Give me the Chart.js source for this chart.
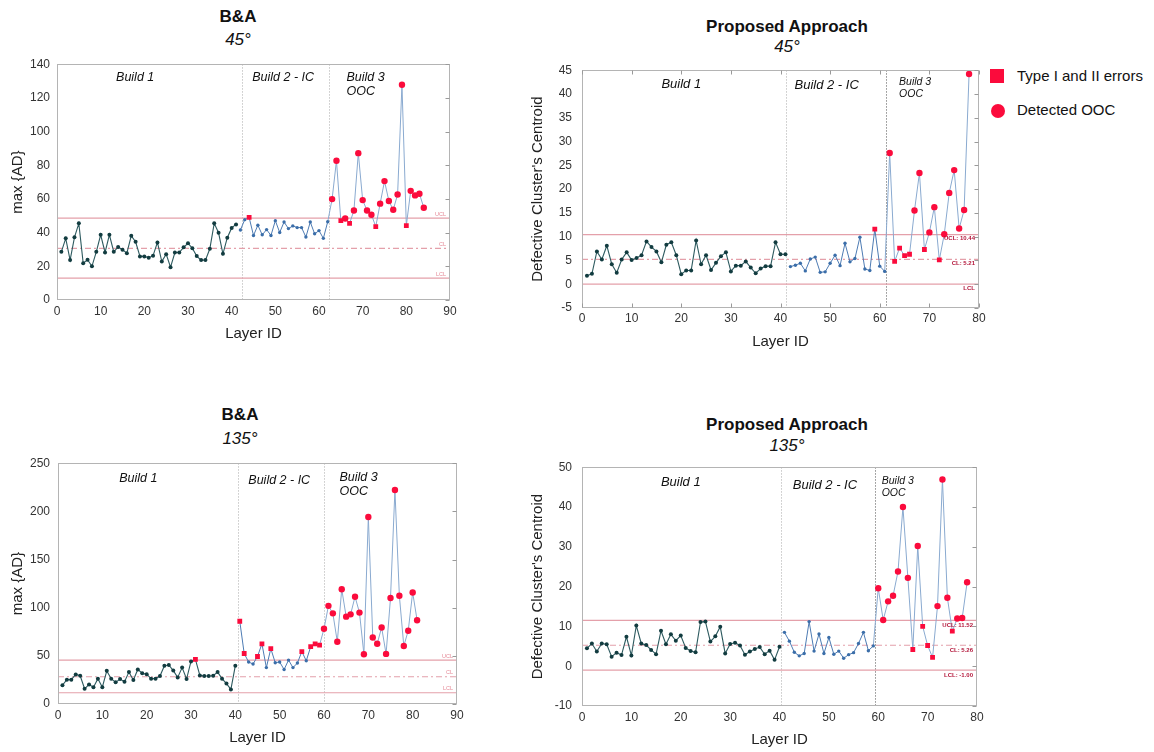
<!DOCTYPE html>
<html>
<head>
<meta charset="utf-8">
<title>Control charts</title>
<script src="https://cdn.jsdelivr.net/npm/chart.js@4.4.1/dist/chart.umd.min.js"></script>
<style>
  body {
    margin: 0;
    width: 1154px;
    height: 752px;
    position: relative;
    overflow: hidden;
    background: #fff;
    font-family: "Liberation Sans", Arial, sans-serif;
    color: #111;
  }
  canvas {
    position: absolute;
  }
  .ttl {
    position: absolute;
    transform: translate(-50%, -50%);
    font-size: 17px;
    white-space: nowrap;
  }
  .ttl.main {
    font-weight: bold;
  }
  .ttl.sub {
    font-style: italic;
  }
  .legend {
    position: absolute;
    left: 990px;
    top: 66px;
    font-size: 15px;
  }
  .legend .row {
    position: relative;
    height: 34px;
    padding-left: 27px;
    line-height: 20px;
  }
  .legend .sq {
    position: absolute;
    left: 0;
    top: 3px;
    width: 14px;
    height: 14px;
    background: #fb0b3c;
  }
  .legend .dot {
    position: absolute;
    left: 1px;
    top: 4px;
    width: 14px;
    height: 14px;
    border-radius: 50%;
    background: #fb0b3c;
  }
</style>
</head>
<body>

<div class="ttl main" style="left:238px;top:17px">B&amp;A</div>
<div class="ttl sub" style="left:238px;top:40px">45°</div>
<div class="ttl main" style="left:787px;top:27px">Proposed Approach</div>
<div class="ttl sub" style="left:787px;top:47px">45°</div>
<div class="ttl main" style="left:240px;top:415px">B&amp;A</div>
<div class="ttl sub" style="left:240px;top:439px">135°</div>
<div class="ttl main" style="left:787px;top:425px">Proposed Approach</div>
<div class="ttl sub" style="left:787px;top:446px">135°</div>

<div class="legend">
  <div class="row"><span class="sq"></span>Type I and II errors</div>
  <div class="row"><span class="dot"></span>Detected OOC</div>
</div>

<canvas id="ba45"></canvas>
<canvas id="pa45"></canvas>
<canvas id="ba135"></canvas>
<canvas id="pa135"></canvas>

<script>
// ---- B&A, 45 deg ----
const ba45Starts = [1, 42, 63]; // first layer of build 1, 2, 3
const ba45Build1 = [28.6, 36.6, 23.7, 37.2, 45.5, 21.8, 23.9, 20.0, 28.6, 38.7,
  28.2, 38.7, 28.6, 31.5, 29.8, 27.8, 38.1, 34.6, 25.9, 25.9,
  25.1, 26.3, 34.2, 22.8, 27.2, 19.5, 28.2, 28.2, 31.3, 33.7,
  30.7, 26.1, 23.7, 23.7, 30.4, 45.5, 39.9, 27.4, 37.0, 42.8, 44.9];
const ba45Build2 = [41.6, 47.7, 49.0, 38.3, 44.4, 38.7, 41.8, 38.3, 47.1, 40.1,
  46.3, 42.4, 44.0, 43.0, 43.0, 37.4, 46.3, 39.3, 41.2, 36.6, 46.5];
const ba45Build3 = [59.9, 82.7, 47.1, 48.4, 45.5, 53.1, 87.2, 59.3, 53.1, 50.6,
  43.6, 57.2, 70.6, 58.8, 53.6, 62.6, 127.8, 44.2, 64.8, 62.1, 63.1, 54.8];
const ba45Errors = [44, 65, 67, 73, 80];
const ba45Limits = [48.6, 30.7, 13.0]; // UCL, CL, LCL
const ba45LimitText = ["UCL", "CL", "LCL"];
const ba45YTicks = [0, 140, 20]; // min, max, step
const ba45XTicks = [0, 90, 10];

// ---- Proposed approach, 45 deg ----
const pa45Starts = [1, 42, 62];
const pa45Build1 = [1.8, 2.2, 6.9, 5.2, 8.1, 4.2, 2.4, 5.2, 6.7, 5.1,
  5.5, 6.1, 9.0, 7.8, 6.9, 4.6, 8.3, 8.8, 6.1, 2.1,
  2.9, 2.9, 9.2, 4.2, 6.1, 3.0, 4.5, 5.9, 6.7, 2.7,
  3.9, 3.9, 4.8, 3.5, 2.3, 3.3, 3.8, 3.8, 8.8, 6.3, 6.3];
const pa45Build2 = [3.7, 4.0, 4.4, 2.8, 5.3, 5.7, 2.5, 2.6, 4.4, 6.1,
  3.9, 8.6, 4.7, 5.4, 9.9, 3.2, 2.9, 11.6, 3.8, 2.7];
const pa45Build3 = [27.6, 4.8, 7.6, 6.0, 6.3, 15.5, 23.4, 7.3, 10.9, 16.2,
  5.1, 10.5, 19.2, 24.0, 11.7, 15.6, 44.2];
const pa45Errors = [59, 63, 64, 65, 66, 69, 72];
const pa45Limits = [10.44, 5.21, 0];
const pa45LimitText = ["UCL: 10.44", "CL: 5.21", "LCL"];
const pa45YTicks = [-5, 45, 5];
const pa45XTicks = [0, 80, 10];

// ---- B&A, 135 deg ----
const ba135Starts = [1, 41, 60];
const ba135Build1 = [19.5, 25.3, 25.3, 30.7, 29.3, 15.8, 20.2, 17.5, 26.3, 17.5,
  34.4, 26.3, 22.5, 25.9, 23.2, 33.1, 24.9, 35.8, 32.0, 31.0,
  26.3, 26.3, 29.0, 39.8, 40.5, 34.7, 27.6, 37.8, 25.9, 44.2,
  46.3, 29.7, 29.0, 29.0, 29.3, 33.1, 26.3, 21.2, 15.1, 39.8];
const ba135Build2 = [85.9, 52.4, 43.6, 41.5, 49.3, 62.5, 37.8, 57.5, 42.9, 43.6,
  35.8, 45.6, 37.8, 42.5, 54.4, 44.9, 59.5, 62.5, 61.2];
const ba135Build3 = [78.1, 101.9, 94.1, 64.6, 119.2, 90.7, 93.1, 111.4, 94.9, 51.7,
  194.1, 69.0, 62.5, 79.5, 52.0, 110.0, 222.2, 112.4, 60.2, 76.1, 115.8, 87.0];
const ba135Errors = [31, 41, 42, 45, 46, 48, 55, 57, 58, 59];
const ba135Limits = [45.6, 28.3, 11.7];
const ba135LimitText = ["UCL", "CL", "LCL"];
const ba135YTicks = [0, 250, 50];
const ba135XTicks = [0, 90, 10];

// ---- Proposed approach, 135 deg ----
const pa135Starts = [1, 41, 60];
const pa135Build1 = [4.5, 5.7, 3.7, 5.7, 5.5, 2.4, 3.4, 2.8, 7.4, 2.7,
  10.2, 5.7, 5.3, 4.1, 3.0, 8.9, 5.5, 8.0, 6.4, 7.7,
  4.6, 3.8, 3.5, 11.1, 11.2, 6.2, 7.5, 9.9, 3.2, 5.6,
  5.9, 5.2, 2.9, 3.7, 4.3, 4.8, 3.0, 3.9, 1.6, 4.9];
const pa135Build2 = [8.5, 6.3, 3.5, 2.6, 3.2, 11.2, 3.8, 8.1, 3.2, 7.2,
  3.0, 3.8, 2.0, 2.9, 3.4, 5.7, 8.5, 3.9, 5.1];
const pa135Build3 = [19.6, 11.6, 16.3, 17.7, 23.8, 40.0, 22.2, 4.2, 30.2, 10.0,
  5.2, 2.2, 15.1, 46.9, 17.2, 8.8, 12.0, 12.1, 21.1];
const pa135Errors = [67, 69, 70, 71, 75];
const pa135Limits = [11.52, 5.26, -1.0];
const pa135LimitText = ["UCL: 11.52", "CL: 5.26", "LCL: -1.00"];
const pa135YTicks = [-10, 50, 10];
const pa135XTicks = [0, 80, 10];

const RED = "#fb0b3c";
const TEAL_LINE = "#2d5a5f";
const TEAL_DOT = "#123c40";
const BLUE_LINE = "#4d7bb3";
const BLUE_LIGHT = "#8aaad0";
const BLUE_DOT = "#3b6ea9";

Chart.defaults.font.family = "'Liberation Sans', Arial, sans-serif";
Chart.defaults.color = "#222";

function layerPoints(start, values) {
  return values.map((v, i) => ({ x: start + i, y: v }));
}

// frame, build dividers, build notes and limit labels
const decor = {
  id: "decor",
  beforeDatasetsDraw(chart, args, o) {
    const { ctx, chartArea: a, scales } = chart;
    ctx.save();
    ctx.lineWidth = 1;
    o.dividers.forEach((d, k) => {
      const px = Math.round(scales.x.getPixelForValue(d)) + 0.5;
      ctx.strokeStyle = k === 1 && o.darkSecond ? "#8a8a8a" : "#c6c6c6";
      ctx.setLineDash([1.5, 1.5]);
      ctx.beginPath();
      ctx.moveTo(px, a.top);
      ctx.lineTo(px, a.bottom);
      ctx.stroke();
    });
    ctx.restore();
  },
  afterDatasetsDraw(chart, args, o) {
    const { ctx, chartArea: a, scales } = chart;
    const l = Math.round(a.left) + 0.5, t = Math.round(a.top) + 0.5;
    const r = Math.round(a.right) - 0.5, b = Math.round(a.bottom) - 0.5;
    ctx.save();
    ctx.strokeStyle = "#b4b4b4";
    ctx.lineWidth = 1;
    ctx.strokeRect(l, t, r - l, b - t);

    // small inner ticks
    ctx.strokeStyle = "#9a9a9a";
    ctx.beginPath();
    scales.y.ticks.forEach(tk => {
      const py = Math.round(scales.y.getPixelForValue(tk.value)) + 0.5;
      ctx.moveTo(r - 4, py);
      ctx.lineTo(r, py);
    });
    if (o.xInnerTicks) {
      scales.x.ticks.forEach(tk => {
        const px = Math.round(scales.x.getPixelForValue(tk.value)) + 0.5;
        ctx.moveTo(px, t);
        ctx.lineTo(px, t + 4);
        ctx.moveTo(px, b);
        ctx.lineTo(px, b - 4);
      });
    }
    ctx.stroke();

    // limit labels
    ctx.fillStyle = o.limitColor;
    ctx.font = o.limitFont;
    ctx.textAlign = "right";
    ctx.textBaseline = "middle";
    o.limits.forEach((v, i) => {
      ctx.fillText(o.limitText[i], a.right - 4, scales.y.getPixelForValue(v) + o.limitDy);
    });

    // build notes
    ctx.fillStyle = "#111";
    ctx.textBaseline = "middle";
    o.notes.forEach(n => {
      ctx.font = "italic " + n.size + "px 'Liberation Sans', Arial, sans-serif";
      ctx.textAlign = n.align || "center";
      ctx.fillText(n.text, scales.x.getPixelForValue(n.x), a.top + n.dy);
    });
    ctx.restore();
  }
};

function drawPanel(p) {
  const canvas = document.getElementById(p.id);
  const xh = 46;
  canvas.width = p.R - p.L + p.yw + 16;
  canvas.height = p.B - p.T + 10 + xh;
  canvas.style.left = p.L - p.yw + "px";
  canvas.style.top = p.T - 10 + "px";

  const s3 = p.starts[2];
  const later = layerPoints(p.starts[1], p.build2).concat(layerPoints(s3, p.build3));
  const isErr = c => p.errors.includes(c.raw.x);
  const [xmin, xmax] = p.xTicks;

  const limitLine = (v, dash) => ({
    data: [{ x: xmin, y: v }, { x: xmax, y: v }],
    showLine: true,
    borderColor: "#e4a0aa",
    borderWidth: 1.2,
    borderDash: dash,
    pointRadius: 0,
    order: 5
  });

  new Chart(canvas, {
    type: "scatter",
    data: {
      datasets: [
        {
          data: layerPoints(p.starts[0], p.build1),
          showLine: true,
          borderColor: TEAL_LINE,
          borderWidth: 1.1,
          pointStyle: c => (isErr(c) ? "rect" : "circle"),
          pointRadius: c => (isErr(c) ? 3.4 : 2),
          pointBackgroundColor: c => (isErr(c) ? RED : TEAL_DOT),
          pointBorderWidth: 0,
          order: 1
        },
        {
          data: later,
          showLine: true,
          borderWidth: 1,
          segment: {
            borderColor: c => (c.p1.parsed.x >= s3 ? BLUE_LIGHT : BLUE_LINE)
          },
          pointStyle: c => (isErr(c) ? "rect" : "circle"),
          pointRadius: c => (isErr(c) ? 3.4 : c.raw.x >= s3 ? 3.2 : 1.7),
          pointBackgroundColor: c => (isErr(c) || c.raw.x >= s3 ? RED : BLUE_DOT),
          pointBorderWidth: 0,
          order: 1
        },
        limitLine(p.limits[0], []),
        limitLine(p.limits[1], [6, 3, 2, 3]),
        limitLine(p.limits[2], [])
      ]
    },
    options: {
      responsive: false,
      animation: false,
      events: [],
      layout: { padding: { left: 0, top: 10, right: 16, bottom: 0 } },
      plugins: {
        legend: { display: false },
        tooltip: { enabled: false },
        decor: {
          dividers: p.dividers,
          darkSecond: p.darkSecond,
          xInnerTicks: p.xInnerTicks,
          limits: p.limits,
          limitText: p.limitText,
          limitDy: p.limitDy,
          limitColor: p.limitColor,
          limitFont: p.limitFont,
          notes: p.notes
        }
      },
      scales: {
        x: {
          type: "linear",
          min: xmin,
          max: xmax,
          grid: { display: false, drawTicks: false },
          border: { display: false },
          ticks: {
            stepSize: p.xTicks[2],
            autoSkip: false,
            maxRotation: 0,
            padding: p.xPad,
            color: "#333",
            font: { size: 12 }
          },
          title: {
            display: true,
            text: "Layer ID",
            color: "#222",
            font: { size: 15 },
            padding: { top: 0, bottom: 3 }
          },
          afterFit: s => { s.height = xh; }
        },
        y: {
          type: "linear",
          min: p.yTicks[0],
          max: p.yTicks[1],
          grid: { display: false, drawTicks: false },
          border: { display: false },
          ticks: {
            stepSize: p.yTicks[2],
            padding: p.yPad,
            color: "#333",
            font: { size: 12 }
          },
          title: {
            display: true,
            text: p.yTitle,
            color: "#222",
            font: { size: 15 },
            padding: { top: p.yTitlePad, bottom: 0 }
          },
          afterFit: s => { s.width = p.yw; }
        }
      }
    },
    plugins: [decor]
  });
}

const paleLimit = { limitColor: "#e58a98", limitFont: "5.5px 'Liberation Sans', Arial, sans-serif" };
const darkLimit = { limitColor: "#b3163a", limitFont: "bold 6px 'Liberation Sans', Arial, sans-serif" };

drawPanel(Object.assign({
  id: "ba45", L: 57, T: 60, R: 450, B: 300, yw: 57, yTitlePad: 9, yPad: 7, xPad: 4,
  yTitle: "max {AD}",
  starts: ba45Starts, build1: ba45Build1, build2: ba45Build2, build3: ba45Build3,
  errors: ba45Errors, limits: ba45Limits, limitText: ba45LimitText, limitDy: -4,
  yTicks: ba45YTicks, xTicks: ba45XTicks,
  dividers: [42.3, 62.4], darkSecond: false, xInnerTicks: false,
  notes: [
    { text: "Build 1", x: 17.9, dy: 13, size: 12.5 },
    { text: "Build 2 - IC", x: 51.8, dy: 13, size: 12.5 },
    { text: "Build 3", x: 66.3, dy: 13, size: 12.5, align: "left" },
    { text: "OOC", x: 66.3, dy: 27, size: 12.5, align: "left" }
  ]
}, paleLimit));

drawPanel(Object.assign({
  id: "pa45", L: 582, T: 63, R: 979, B: 308, yw: 70, yTitlePad: 17, yPad: 10, xPad: 3,
  yTitle: "Defective Cluster's Centroid",
  starts: pa45Starts, build1: pa45Build1, build2: pa45Build2, build3: pa45Build3,
  errors: pa45Errors, limits: pa45Limits, limitText: pa45LimitText, limitDy: 4,
  yTicks: pa45YTicks, xTicks: pa45XTicks,
  dividers: [41.2, 61.2], darkSecond: true, xInnerTicks: true,
  notes: [
    { text: "Build 1", x: 20.0, dy: 14, size: 13 },
    { text: "Build 2 - IC", x: 49.3, dy: 15, size: 13 },
    { text: "Build 3", x: 63.9, dy: 12, size: 10.5, align: "left" },
    { text: "OOC", x: 63.9, dy: 24, size: 10.5, align: "left" }
  ]
}, darkLimit));

drawPanel(Object.assign({
  id: "ba135", L: 58, T: 458, R: 457, B: 704, yw: 58, yTitlePad: 9, yPad: 8, xPad: 4.5,
  yTitle: "max {AD}",
  starts: ba135Starts, build1: ba135Build1, build2: ba135Build2, build3: ba135Build3,
  errors: ba135Errors, limits: ba135Limits, limitText: ba135LimitText, limitDy: -4,
  yTicks: ba135YTicks, xTicks: ba135XTicks,
  dividers: [40.5, 59.9], darkSecond: false, xInnerTicks: false,
  notes: [
    { text: "Build 1", x: 18.1, dy: 15, size: 12.5 },
    { text: "Build 2 - IC", x: 49.9, dy: 17, size: 12.5 },
    { text: "Build 3", x: 63.5, dy: 14, size: 12.5, align: "left" },
    { text: "OOC", x: 63.5, dy: 28, size: 12.5, align: "left" }
  ]
}, paleLimit));

drawPanel(Object.assign({
  id: "pa135", L: 582, T: 460, R: 977, B: 706, yw: 70, yTitlePad: 17, yPad: 10, xPad: 4,
  yTitle: "Defective Cluster's Centroid",
  starts: pa135Starts, build1: pa135Build1, build2: pa135Build2, build3: pa135Build3,
  errors: pa135Errors, limits: pa135Limits, limitText: pa135LimitText, limitDy: 5,
  yTicks: pa135YTicks, xTicks: pa135XTicks,
  dividers: [40.3, 59.3], darkSecond: true, xInnerTicks: false,
  notes: [
    { text: "Build 1", x: 20.0, dy: 15, size: 13 },
    { text: "Build 2 - IC", x: 49.2, dy: 18, size: 13 },
    { text: "Build 3", x: 60.7, dy: 14, size: 10.5, align: "left" },
    { text: "OOC", x: 60.7, dy: 26, size: 10.5, align: "left" }
  ]
}, darkLimit));
</script>
</body>
</html>
